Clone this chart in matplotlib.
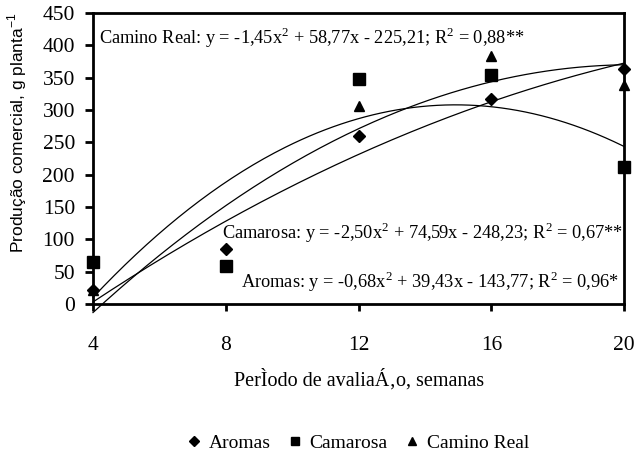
import numpy as np
import matplotlib
matplotlib.use("Agg")
import matplotlib.pyplot as plt
from matplotlib.lines import Line2D

weeks = [4, 8, 12, 16, 20]
aromas = [22, 85, 260, 317, 363]
camarosa = [65, 58, 348, 355, 212]
camino_real = [22, 58, 306, 383, 339]

# regression coefficients (a, b, c) for y = a x^2 + b x + c, as printed on chart
coef_aromas = [-0.68, 39.43, -143.77]
coef_camarosa = [-2.50, 74.59, -248.23]
coef_camino = [-1.45, 58.77, -225.21]

yticks = [0, 50, 100, 150, 200, 250, 300, 350, 400, 450]

serif = ["Liberation Serif", "DejaVu Serif"]
plt.rcParams["font.family"] = serif
plt.rcParams["mathtext.fontset"] = "custom"
plt.rcParams["mathtext.rm"] = "Liberation Serif"

fig = plt.figure(figsize=(6.37, 4.55), dpi=100)
ax = fig.add_axes([0.146, 0.332, 0.834, 0.639])

xs = np.linspace(4, 20, 200)
for c in (coef_aromas, coef_camarosa, coef_camino):
    ax.plot(xs, np.polyval(c, xs), color="black", lw=0.9, clip_on=False, zorder=2)

ax.plot(weeks, camino_real, ls="none", marker="^", ms=7.5, color="black", clip_on=False, zorder=3)
ax.plot(weeks, camarosa, ls="none", marker="s", ms=8, color="black", clip_on=False, zorder=4)
ax.plot(weeks, aromas, ls="none", marker="D", ms=6.5, color="black", clip_on=False, zorder=5)

ax.set_xlim(4, 20)
ax.set_ylim(0, 450)
ax.set_xticks(weeks)
ax.set_yticks(yticks)
for s in ax.spines.values():
    s.set_linewidth(2.0)
ax.tick_params(axis="y", direction="out", length=6, width=2, labelsize=15.5, pad=7)
ax.tick_params(axis="x", direction="out", length=5, width=2, labelsize=15.5, pad=18)

ax.set_xlabel("PerÌodo de avaliaÁ‚o, semanas", fontsize=14.5, labelpad=10)
ax.set_ylabel("Produção comercial, g planta$^{\\mathregular{-1}}$", fontsize=12.5,
              family=["Liberation Sans", "DejaVu Sans"])
ax.yaxis.set_label_coords(-0.12, 0.59)

eq_fs = 13.2
ax.text(0.012, 0.915, "Camino Real: y = -1,45x$^{\\mathregular{2}}$ + 58,77x - 225,21; R$^{\\mathregular{2}}$ = 0,88**",
        transform=ax.transAxes, fontsize=eq_fs, ha="left", va="center")
ax.text(0.243, 0.245, "Camarosa: y = -2,50x$^{\\mathregular{2}}$ + 74,59x - 248,23; R$^{\\mathregular{2}}$ = 0,67**",
        transform=ax.transAxes, fontsize=eq_fs, ha="left", va="center")
ax.text(0.278, 0.075, "Aromas: y = -0,68x$^{\\mathregular{2}}$ + 39,43x - 143,77; R$^{\\mathregular{2}}$ = 0,96*",
        transform=ax.transAxes, fontsize=eq_fs, ha="left", va="center")

handles = [
    Line2D([], [], ls="none", marker="D", ms=5, color="black", label="Aromas"),
    Line2D([], [], ls="none", marker="s", ms=6, color="black", label="Camarosa"),
    Line2D([], [], ls="none", marker="^", ms=6, color="black", label="Camino Real"),
]
fig.legend(handles=handles, loc="center", bbox_to_anchor=(0.562, 0.027), ncol=3,
           frameon=False, fontsize=14, handlelength=0.7, handletextpad=0.4,
           columnspacing=0.9)

fig.savefig("out.png", dpi=100)
